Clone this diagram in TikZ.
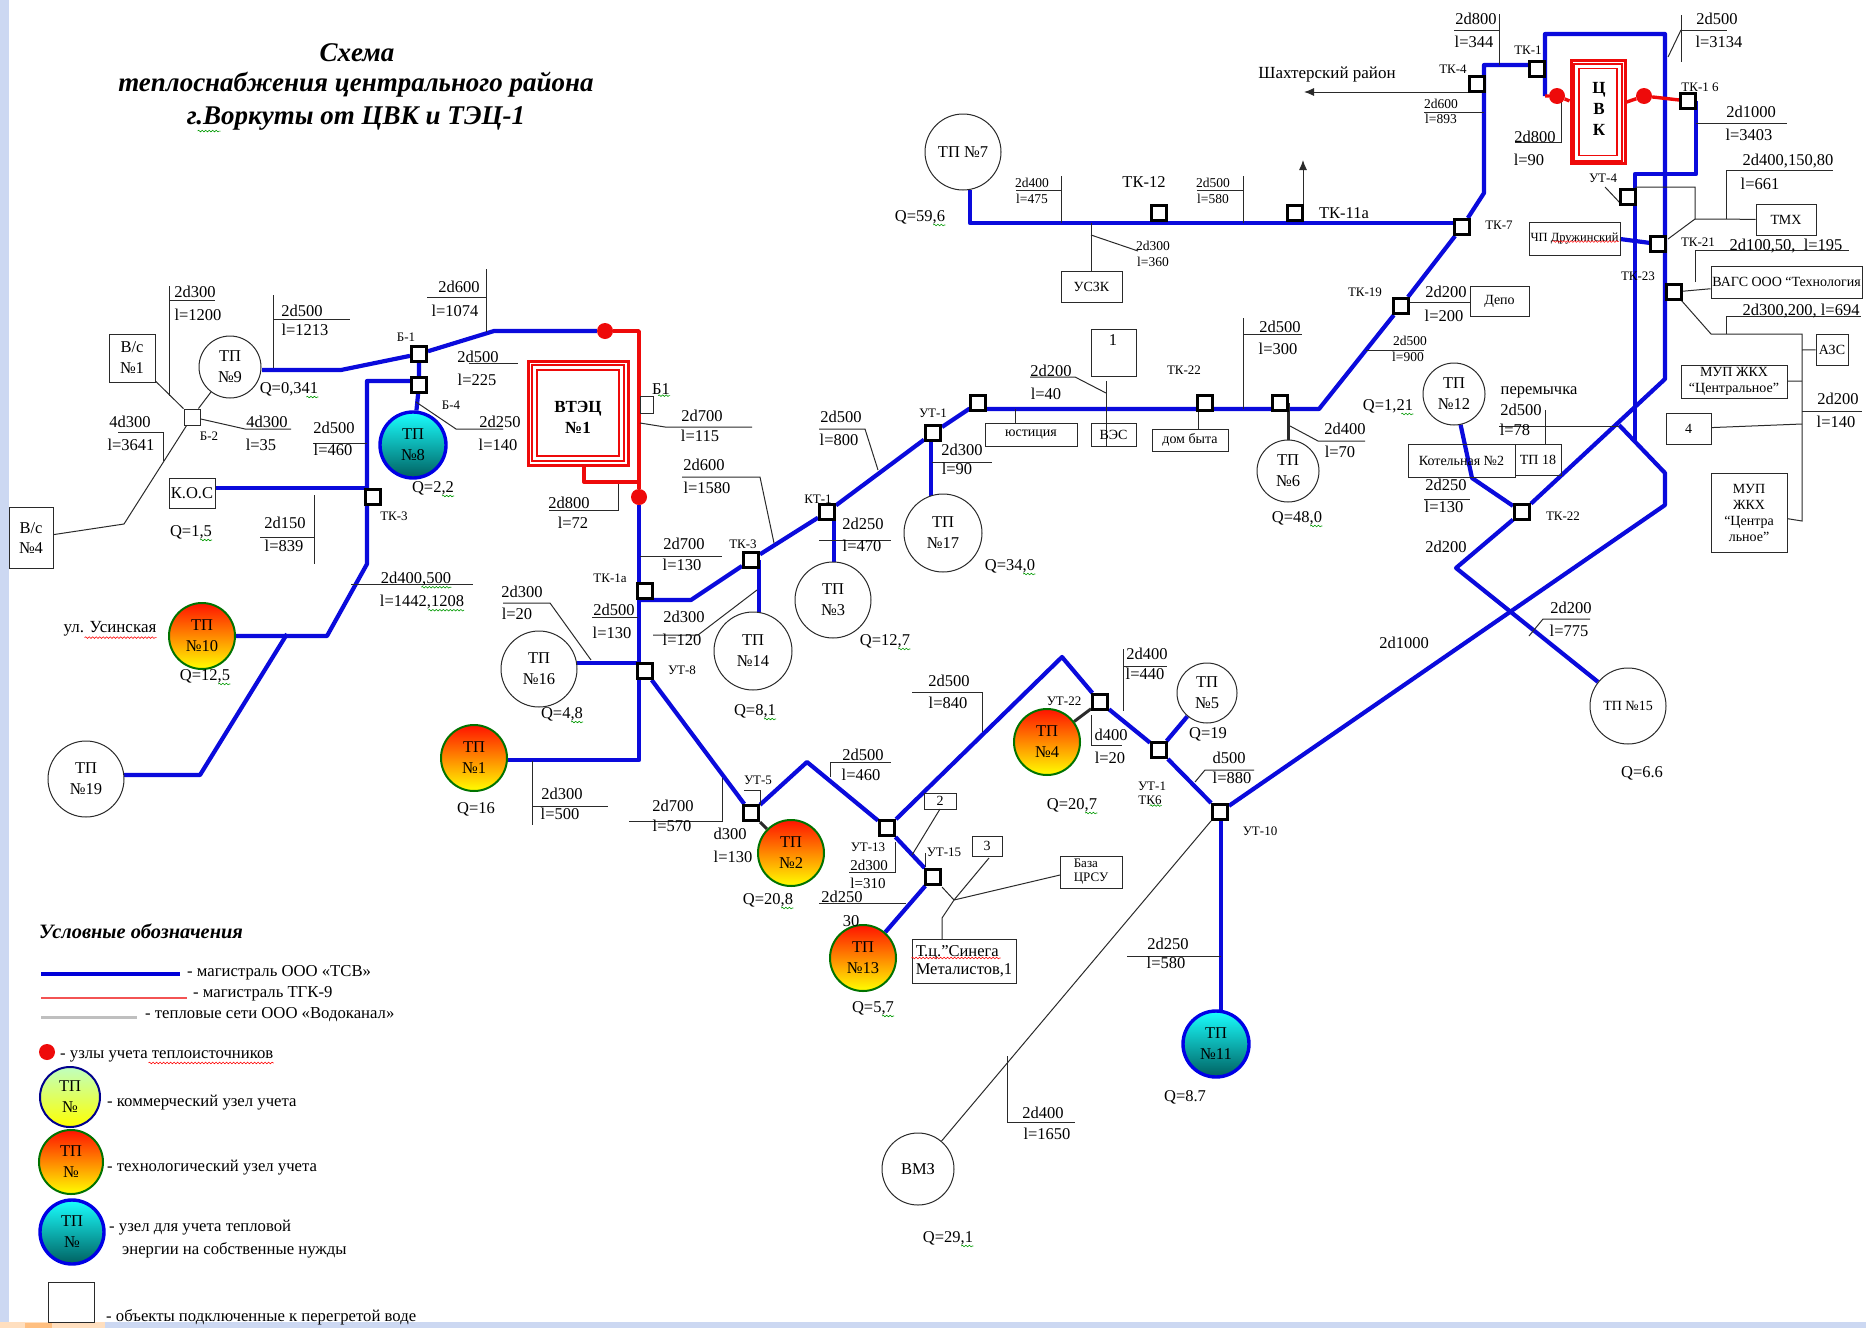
\documentclass[tikz,border=0pt]{standalone}
\usepackage{fontspec}
\setmainfont{Liberation Serif}
\usetikzlibrary{arrows.meta,backgrounds,decorations.pathmorphing}
\definecolor{ink}{HTML}{2A2A2A}
\definecolor{pipeblue}{HTML}{0A0ADC}
\definecolor{pipered}{HTML}{EE0A0A}
\definecolor{stripblue}{HTML}{CCD8F2}
\tikzset{
	pipe/.style={draw=pipeblue, line width=4.2pt, line join=round},
	redpipe/.style={draw=pipered, line width=3.4pt, line join=round},
	stub/.style={draw=ink, line width=3pt},
	leader/.style={draw=ink, line width=1pt},
	arrowline/.style={draw=ink, line width=1pt, -{Latex[length=10pt,width=8pt]}},
	lab/.style={inner sep=0pt, font=\fontsize{16.5pt}{21pt}\selectfont, align=center},
	tag/.style={inner sep=0pt, font=\fontsize{13pt}{15pt}\selectfont, align=center},
	smalllab/.style={inner sep=0pt, font=\fontsize{13.5pt}{15pt}\selectfont, align=center},
	legendtxt/.style={inner sep=0pt, anchor=west, font=\fontsize{16.7pt}{18pt}\selectfont},
	heading/.style={inner sep=0pt, font=\fontsize{27pt}{30pt}\selectfont\bfseries\itshape},
	sq/.style={draw=black, line width=3pt, fill=white, minimum size=15pt, inner sep=0pt},
	thinsq/.style={draw=ink, line width=1pt, fill=white, minimum size=16pt, inner sep=0pt},
	objbox/.style={draw=ink, line width=1pt, inner sep=0pt, align=center, font=\fontsize{14pt}{16pt}\selectfont},
	tpplain/.style={circle, draw=ink, line width=1pt, fill=white, inner sep=0pt, minimum size=#1, lab},
	tptech/.style={circle, draw=green!45!black, line width=2pt, top color=red!85!orange, middle color=orange!80!yellow, bottom color=yellow, inner sep=0pt, minimum size=#1, lab},
	tpown/.style={circle, draw=blue!90!black, line width=3.4pt, top color=cyan!90!white, bottom color=teal!75!black, inner sep=0pt, minimum size=#1, lab},
	tpcomm/.style={circle, draw=blue!55!black, line width=2pt, top color=green!25!white, bottom color=yellow, inner sep=0pt, minimum size=#1, lab},
	meterdot/.style={circle, fill=pipered, inner sep=0pt, minimum size=16pt},
	redbox/.style={draw=pipered, inner sep=0pt},
	squig/.style={draw=#1, line width=.6pt, decorate, decoration={snake, amplitude=.8pt, segment length=3.5pt}},
}
\begin{document}
\begin{tikzpicture}[x=1pt,y=-1pt]
	\useasboundingbox (0,0) rectangle (1866,1328);
	\fill[stripblue] (0,0) rectangle (9,1328);
	\fill[stripblue] (105,1322) rectangle (1866,1328);
	\fill[orange!25!white] (0,1322) rectangle (105,1328);
	\fill[orange!50!white] (25,1323) rectangle (52,1328);

	% заголовок
	\node[heading] (title1) at (357,53) {Схема};
	\node[heading] (title2) at (356,85) {теплоснабжения центрального района};
	\node[heading] (title3) at (356,118) {г.Воркуты от ЦВК и ТЭЦ-1};

	% теплоисточники
	\node[redbox, line width=3pt, minimum width=100pt, minimum height=104pt] (vtecb) at (578,413) {};
	\node[redbox, line width=2pt, minimum width=92pt, minimum height=96pt] (vtecm) at (578,413) {};
	\node[redbox, line width=1.4pt, minimum width=82pt, minimum height=86pt] (vteci) at (578,413) {};
	\node[lab, font=\fontsize{17pt}{21pt}\selectfont\bfseries] (vtec) at (578,417) {ВТЭЦ\\№1};
	\node[redbox, line width=3pt, minimum width=54pt, minimum height=103pt] (cvkb) at (1598,112) {};
	\node[redbox, line width=2pt, minimum width=48pt, minimum height=97pt] (cvkm) at (1598,112) {};
	\node[redbox, line width=1.4pt, minimum width=38pt, minimum height=87pt] (cvki) at (1598,112) {};
	\node[lab, font=\fontsize{17pt}{21pt}\selectfont\bfseries] (cvk) at (1599,109) {Ц\\В\\К};
	\node[meterdot] (dot1) at (605,331) {};
	\node[meterdot] (dot2) at (639,497) {};
	\node[meterdot] (dotc1) at (1557,96) {};
	\node[meterdot] (dotc2) at (1644,96) {};

	% тепловые пункты
	\node[tpplain=62pt] (tp9) at (230,367) {ТП\\№9};
	\node[tpown=66pt] (tp8) at (413,445) {ТП\\№8};
	\node[tptech=66pt] (tp10) at (202,636) {ТП\\№10};
	\node[tpplain=76pt] (tp19) at (86,779) {ТП\\№19};
	\node[tpplain=76pt] (tp7) at (963,152) {ТП №7};
	\node[tpplain=78pt] (tp17) at (943,533) {ТП\\№17};
	\node[tpplain=76pt] (tp3) at (833,600) {ТП\\№3};
	\node[tpplain=78pt] (tp14) at (753,651) {ТП\\№14};
	\node[tpplain=76pt] (tp16) at (539,669) {ТП\\№16};
	\node[tptech=66pt] (tp1) at (474,758) {ТП\\№1};
	\node[tptech=66pt] (tp2) at (791,853) {ТП\\№2};
	\node[tptech=66pt] (tp13) at (863,958) {ТП\\№13};
	\node[tptech=66pt] (tp4) at (1047,742) {ТП\\№4};
	\node[tpplain=60pt] (tp5) at (1207,693) {ТП\\№5};
	\node[tpown=66pt] (tp11) at (1216,1044) {ТП\\№11};
	\node[tpplain=72pt] (vmz) at (918,1169) {ВМЗ};
	\node[tpplain=76pt, font=\fontsize{14pt}{16pt}\selectfont] (tp15) at (1628,706) {ТП №15};
	\node[tpplain=62pt] (tp6) at (1288,471) {ТП\\№6};
	\node[tpplain=62pt] (tp12) at (1454,394) {ТП\\№12};

	% камеры
	\node[sq] (b1) at (419,354) {};
	\node[sq] (b4) at (419,385) {};
	\node[thinsq] (b2) at (192,417) {};
	\node[sq] (tk3a) at (373,497) {};
	\node[sq] (tk1a) at (645,591) {};
	\node[sq] (tk3b) at (751,560) {};
	\node[sq] (kt1) at (827,512) {};
	\node[sq] (ut1a) at (933,433) {};
	\node[sq] (ves) at (978,403) {};
	\node[sq] (tk22a) at (1205,403) {};
	\node[sq] (tk6a) at (1280,403) {};
	\node[sq] (ut8) at (645,671) {};
	\node[sq] (ut5) at (751,813) {};
	\node[sq] (ut13) at (887,828) {};
	\node[sq] (ut15) at (933,877) {};
	\node[sq] (ut22) at (1100,702) {};
	\node[sq] (ut1b) at (1159,750) {};
	\node[sq] (ut10) at (1220,812) {};
	\node[sq] (tk12) at (1159,213) {};
	\node[sq] (tk11a) at (1295,213) {};
	\node[sq] (tk7) at (1462,227) {};
	\node[sq] (tk19) at (1401,306) {};
	\node[sq] (tk4) at (1477,84) {};
	\node[sq] (tk1) at (1537,69) {};
	\node[sq] (tk16) at (1688,101) {};
	\node[sq] (ut4) at (1628,197) {};
	\node[sq] (tk21) at (1658,244) {};
	\node[sq] (tk23) at (1674,292) {};
	\node[sq] (tk22b) at (1522,512) {};

	% объекты
	\node[objbox, minimum width=46pt, minimum height=48pt, font=\fontsize{16.5pt}{21pt}\selectfont] (bs1) at (132,358) {В/с\\№1};
	\node[objbox, minimum width=44pt, minimum height=61pt, font=\fontsize{16.5pt}{20pt}\selectfont] (bs4) at (31,538) {В/с\\№4};
	\node[objbox, minimum width=46pt, minimum height=30pt, font=\fontsize{16.5pt}{21pt}\selectfont] (kos) at (192,493) {К.О.С};
	\node[objbox, minimum width=61pt, minimum height=31pt] (uszk) at (1091.5,287) {УСЗК};
	\node[objbox, minimum width=45pt, minimum height=47pt] (obj1) at (1113.5,353) {};
	\node[lab] (obj1t) at (1113,340) {1};
	\node[objbox, minimum width=92pt, minimum height=23pt] (just) at (1031,435) {юстиция};
	\node[objbox, minimum width=45pt, minimum height=23pt] (vesb) at (1113.5,435) {ВЭС};
	\node[objbox, minimum width=76pt, minimum height=22pt] (dom) at (1190,440) {дом быта};
	\node[objbox, minimum width=59pt, minimum height=30pt] (depo) at (1499.5,301) {Депо};
	\node[objbox, minimum width=60pt, minimum height=31pt] (tmh) at (1786,219.5) {ТМХ};
	\node[objbox, minimum width=91pt, minimum height=33pt, font=\fontsize{12.5pt}{15pt}\selectfont] (chp) at (1574.5,238.5) {ЧП Дружинский};
	\node[objbox, minimum width=151pt, minimum height=32pt, font=\fontsize{14pt}{15pt}\selectfont] (vags) at (1786.5,282) {ВАГС ООО “Технология};
	\node[objbox, minimum width=32pt, minimum height=31pt] (azs) at (1832,349.5) {АЗС};
	\node[objbox, minimum width=106pt, minimum height=33pt] (mup1) at (1734,381.5) {МУП ЖКХ\\“Центральное”};
	\node[objbox, minimum width=45pt, minimum height=31pt] (obj4) at (1688.5,428.5) {4};
	\node[objbox, minimum width=76pt, minimum height=79pt] (mup2) at (1749,512.5) {МУП\\ЖКХ\\“Центра\\льное”};
	\node[objbox, minimum width=107pt, minimum height=33pt] (kot2) at (1461.5,460.5) {Котельная №2};
	\node[objbox, minimum width=46pt, minimum height=31pt] (tp18) at (1538,459.5) {ТП 18};
	\node[objbox, minimum width=32pt, minimum height=16pt] (obj2) at (940,801) {2};
	\node[objbox, minimum width=30pt, minimum height=20pt] (obj3) at (987,846) {3};
	\node[objbox, minimum width=104pt, minimum height=44pt, font=\fontsize{16.5pt}{18pt}\selectfont, align=left] (sineg) at (964,961) {Т.ц.”Синега\\Металистов,1};
	\node[objbox, minimum width=62pt, minimum height=32pt, font=\fontsize{13pt}{14pt}\selectfont, align=left] (crsu) at (1091,872) {База\\ЦРСУ};
	\node[objbox, minimum width=13pt, minimum height=17pt] (b1box) at (646.5,404.5) {};

	% опорные точки
	\foreach \n/\x/\y in {p1/341/370,p2/494/331,p3/419/381,p4/367/381,p5/367/564,p6/327/636,p7/200/775,p8/287/634,
		p9/215/488,p10/369/488,r1/639/331,r2/584/465,r3/584/482,r4/639/482,r5/1545/96,p11/639/760,p12/639/600,p13/691/600,
		p14/969/409,p15/1319/409,p16/1484/193,p17/1484/65,p18/1537/65,p19/759/560,p20/759/619,p21/834/512,p22/834/566,
		p23/931/433,p24/931/496,p25/638/663,p26/807/762,p27/1062/657,p28/1665/505,p29/1665/473,p30/1619/425,p31/1221/1010,
		p32/1545/96,p33/1545/34,p34/1665/34,p35/1665/379,p36/1456/568,p37/1696/101,p38/1696/174,p39/1635/174,p40/1635/442,
		p41/1620/239,p42/1472/478,p43/970/190,p44/970/223,p45/1461/223,p46/1221/812,p47/577/663,p48/507/760,p49/262/370,
		p50/124/775,p51/1288/403,p52/1288/441}
		\coordinate (\n) at (\x,\y);
	\foreach \n/\x/\y in {a1/169/286,a2/169/396,a3/169/300,a4/215/300,a5/118/432,a6/163/432,a7/163/461,a8/245/429,a9/291/429,
		a10/273/295,a11/273/368,a12/273/319,a13/350/319,a14/427/297,a15/486/297,a16/486/269,a17/486/332,a18/469/363,a19/518/363,
		a20/416/402,a21/456/429,a22/503/429,a23/313/443,a24/367/443,a25/260/537,a26/314/537,a27/314/495,a28/314/564,
		a29/549/510,a30/618/510,a31/618/484,a32/351/584,a33/473/584,a34/124/524,
		c1/1016/190,c2/1061/190,c3/1061/176,c4/1061/223,c5/1197/190,c6/1243/190,c7/1243/176,c8/1243/223,c9/1091/223,c10/1091/271,
		c11/1091/235,c12/1138/251,c13/1030/377,c14/1075/377,c15/1106/393,c16/1106/381,c17/1106/447,c18/1015/409,c19/1015/424,
		c20/1198/403,c21/1198/429,c22/1243/318,c23/1243/409,c24/1243/334,c25/1302/334,c26/640/423,c27/665/427,c28/752/427,
		c29/682/477,c30/760/477,c31/774/543,c32/819/429,c33/865/429,c34/878/470,c35/932/462,c36/992/462,c37/819/540,c38/891/540,
		c39/640/556,c40/722/556,c41/653/635,c42/698/635,c43/757/590,c44/592/617,c45/638/617,c46/503/603,c47/550/603,c48/591/660}
		\coordinate (\n) at (\x,\y);
	\foreach \n/\x/\y in {d1/532/761,d2/532/825,d3/532/806,d4/608/806,d5/629/821,d6/722/821,d7/722/778,d8/744/790,d9/760/790,d10/760/805,
		d11/830/762,d12/891/762,d13/830/777,d14/849/872,d15/895/872,d16/895/842,d17/912/855,d18/925/853,d19/925/867,d20/989/858,
		d21/954/900,d22/942/887,d23/942/918,d24/942/939,d25/1060/875,d26/819/903,d27/906/903,d28/912/692,d29/982/692,d30/982/732,
		d31/1091/715,d32/1091/745,d33/1122/745,d34/1123/649,d35/1123/711,d36/1123/666,d37/1167/666,d38/1195/782,d39/1205/770,d40/1254/770,
		d41/1127/956,d42/1221/956,d43/1211/821,d44/1007/1056,d45/1007/1122,d46/1075/1122,d47/940/809}
		\coordinate (\n) at (\x,\y);
	\foreach \n/\x/\y in {e1/1304/92,e2/1468/92,e3/1454/30,e4/1499/30,e5/1499/14,e6/1499/65,e7/1424/112,e8/1484/112,e9/1515/142,e10/1561/142,
		e11/1561/96,e12/1681/30,e13/1727/30,e14/1681/15,e15/1681/62,e16/1668/57,e17/1696/123,e18/1787/123,e19/1726/170,e20/1833/170,
		e21/1726/219,e22/1695/219,e23/1635/187,e24/1695/187,e25/1668/239,e26/1605/187,e27/1621/204,e28/1695/282,e29/1695/250,e30/1849/250,
		e31/1681/300,e32/1711/334,e33/1802/334,e34/1802/521,e35/1726/316,e36/1861/316,e37/1726/334,e38/1802/350,e39/1802/381,e40/1802/424,
		e41/1802/411,e42/1862/411,e43/1499/426,e44/1619/426,e45/1545/410,e46/1545/444,e47/1424/499,e48/1470/499,e49/1529/636,e50/1543/619,
		e51/1590/619,e52/1366/350,e53/1424/350,e54/1303/204,e55/1303/160,e56/1290/426,e57/1318/441,e58/1365/441,e59/1401/302,e60/1470/302}
		\coordinate (\n) at (\x,\y);
	% условные обозначения: концы линий
	\foreach \n/\x/\y in {g1/41/974,g2/180/974,g3/41/998,g4/187/998,g5/41/1017,g6/137/1017}
		\coordinate (\n) at (\x,\y);

	% подписи: западная часть
	\node[lab] (t1a) at (195,292) {2d300};
	\node[lab] (t1b) at (198,315) {l=1200};
	\node[lab] (t2a) at (130,422) {4d300};
	\node[lab] (t2b) at (131,445) {l=3641};
	\node[lab] (t3a) at (267,422) {4d300};
	\node[lab] (t3b) at (261,445) {l=35};
	\node[lab] (t4a) at (302,311) {2d500};
	\node[lab] (t4b) at (305,330) {l=1213};
	\node[lab] (t5a) at (459,287) {2d600};
	\node[lab] (t5b) at (455,311) {l=1074};
	\node[lab] (t6a) at (478,357) {2d500};
	\node[lab] (t6b) at (477,380) {l=225};
	\node[lab] (t7a) at (500,422) {2d250};
	\node[lab] (t7b) at (498,445) {l=140};
	\node[lab] (t8a) at (334,428) {2d500};
	\node[lab] (t8b) at (333,450) {l=460};
	\node[lab] (t9a) at (285,523) {2d150};
	\node[lab] (t9b) at (284,546) {l=839};
	\node[lab] (t10a) at (569,503) {2d800};
	\node[lab] (t10b) at (573,523) {l=72};
	\node[lab] (t11a) at (416,579) {2d400,500};
	\node[lab] (t11b) at (422,602) {l=1442,1208};
	\node[tag] (nb1) at (406,337) {Б-1};
	\node[tag] (nb2) at (209,436) {Б-2};
	\node[tag] (nb4) at (451,405) {Б-4};
	\node[tag] (ntk3a) at (394,516) {ТК-3};
	\node[lab, font=\fontsize{17pt}{19pt}\selectfont] (usin) at (110,629) {ул. Усинская};
	\node[lab] (q9) at (289,389) {Q=0,341};
	\node[lab] (q8) at (433,488) {Q=2,2};
	\node[lab] (qkos) at (191,532) {Q=1,5};
	\node[lab] (q10) at (205,676) {Q=12,5};
	\node[lab] (nb1b) at (661,389) {Б1};

	% подписи: центр
	\node[smalllab] (t12a) at (1032,183) {2d400};
	\node[smalllab] (t12b) at (1032,199) {l=475};
	\node[smalllab] (t13a) at (1213,183) {2d500};
	\node[smalllab] (t13b) at (1213,199) {l=580};
	\node[smalllab] (t14a) at (1153,246) {2d300};
	\node[smalllab] (t14b) at (1153,262) {l=360};
	\node[lab] (t15a) at (1051,371) {2d200};
	\node[lab] (t15b) at (1046,394) {l=40};
	\node[lab] (t16a) at (1280,327) {2d500};
	\node[lab] (t16b) at (1278,349) {l=300};
	\node[lab] (t17a) at (702,416) {2d700};
	\node[lab] (t17b) at (700,436) {l=115};
	\node[lab] (t18a) at (704,465) {2d600};
	\node[lab] (t18b) at (707,488) {l=1580};
	\node[lab] (t19a) at (841,417) {2d500};
	\node[lab] (t19b) at (839,440) {l=800};
	\node[lab] (t20a) at (962,450) {2d300};
	\node[lab] (t20b) at (957,469) {l=90};
	\node[lab] (t21a) at (863,524) {2d250};
	\node[lab] (t21b) at (862,546) {l=470};
	\node[lab] (t22a) at (684,544) {2d700};
	\node[lab] (t22b) at (682,565) {l=130};
	\node[lab] (t23a) at (684,617) {2d300};
	\node[lab] (t23b) at (682,640) {l=120};
	\node[lab] (t24a) at (614,610) {2d500};
	\node[lab] (t24b) at (612,633) {l=130};
	\node[lab] (t25a) at (522,592) {2d300};
	\node[lab] (t25b) at (517,614) {l=20};
	\node[lab] (t26a) at (562,794) {2d300};
	\node[lab] (t26b) at (560,814) {l=500};
	\node[lab] (t27a) at (673,806) {2d700};
	\node[lab] (t27b) at (672,826) {l=570};
	\node[lab] (t28a) at (730,834) {d300};
	\node[lab] (t28b) at (733,857) {l=130};
	\node[lab] (t29a) at (863,755) {2d500};
	\node[lab] (t29b) at (861,775) {l=460};
	\node[lab, font=\fontsize{15pt}{17pt}\selectfont] (t30a) at (869,865) {2d300};
	\node[lab, font=\fontsize{15pt}{17pt}\selectfont] (t30b) at (868,883) {l=310};
	\node[lab] (t31a) at (842,897) {2d250};
	\node[lab] (t31b) at (851,921) {30};
	\node[lab] (t32a) at (949,681) {2d500};
	\node[lab] (t32b) at (948,703) {l=840};
	\node[lab] (t33a) at (1111,735) {d400};
	\node[lab] (t33b) at (1110,758) {l=20};
	\node[lab] (t34a) at (1147,654) {2d400};
	\node[lab] (t34b) at (1145,674) {l=440};
	\node[lab] (t35a) at (1229,758) {d500};
	\node[lab] (t35b) at (1232,778) {l=880};
	\node[lab] (t36a) at (1168,944) {2d250};
	\node[lab] (t36b) at (1166,963) {l=580};
	\node[lab] (t37a) at (1043,1113) {2d400};
	\node[lab] (t37b) at (1047,1134) {l=1650};
	\node[tag] (nut1a) at (933,413) {УТ-1};
	\node[tag] (nkt1) at (818,499) {КТ-1};
	\node[tag] (ntk3b) at (743,544) {ТК-3};
	\node[tag] (ntk1a) at (610,578) {ТК-1а};
	\node[tag] (nut8) at (682,670) {УТ-8};
	\node[tag] (nut5) at (758,780) {УТ-5};
	\node[tag] (nut13) at (868,847) {УТ-13};
	\node[tag] (nut15) at (944,852) {УТ-15};
	\node[tag] (nut22) at (1064,701) {УТ-22};
	\node[tag] (nut1b) at (1152,786) {УТ-1};
	\node[tag] (ntk6) at (1150,800) {ТК6};
	\node[tag] (nut10) at (1260,831) {УТ-10};
	\node[tag] (ntk22t) at (1184,370) {ТК-22};
	\node[lab] (ntk12) at (1144,182) {ТК-12};
	\node[lab] (q7) at (920,217) {Q=59,6};
	\node[lab] (q17) at (1010,566) {Q=34,0};
	\node[lab] (q3) at (885,641) {Q=12,7};
	\node[lab] (q14) at (755,711) {Q=8,1};
	\node[lab] (q16) at (562,714) {Q=4,8};
	\node[lab] (q1) at (476,809) {Q=16};
	\node[lab] (q2) at (768,900) {Q=20,8};
	\node[lab] (q13) at (873,1008) {Q=5,7};
	\node[lab] (q4) at (1072,805) {Q=20,7};
	\node[lab] (q5) at (1208,734) {Q=19};
	\node[lab] (q11) at (1185,1097) {Q=8.7};
	\node[lab] (qvmz) at (948,1238) {Q=29,1};
	\node[lab] (q15) at (1642,773) {Q=6.6};
	\node[lab] (q6) at (1297,518) {Q=48,0};
	\node[lab] (q12) at (1388,406) {Q=1,21};

	% подписи: восток
	\node[lab, font=\fontsize{17pt}{19pt}\selectfont] (shakh) at (1327,74) {Шахтерский район};
	\node[lab] (t40a) at (1476,19) {2d800};
	\node[lab] (t40b) at (1474,42) {l=344};
	\node[smalllab] (t41a) at (1441,104) {2d600};
	\node[smalllab] (t41b) at (1441,119) {l=893};
	\node[lab] (t42a) at (1535,137) {2d800};
	\node[lab] (t42b) at (1529,160) {l=90};
	\node[lab] (t43a) at (1717,19) {2d500};
	\node[lab] (t43b) at (1719,42) {l=3134};
	\node[lab] (t44a) at (1751,112) {2d1000};
	\node[lab] (t44b) at (1749,135) {l=3403};
	\node[lab] (t45a) at (1788,161) {2d400,150,80};
	\node[lab] (t45b) at (1760,184) {l=661};
	\node[lab] (t46) at (1786,246) {2d100,50,\ \ l=195};
	\node[lab] (t47) at (1801,311) {2d300,200,\ l=694};
	\node[lab] (t48a) at (1838,399) {2d200};
	\node[lab] (t48b) at (1836,422) {l=140};
	\node[lab] (t49a) at (1446,292) {2d200};
	\node[lab] (t49b) at (1444,316) {l=200};
	\node[smalllab] (t50a) at (1410,341) {2d500};
	\node[smalllab] (t50b) at (1408,357) {l=900};
	\node[lab] (t51a) at (1345,429) {2d400};
	\node[lab] (t51b) at (1340,452) {l=70};
	\node[lab] (t52) at (1539,392) {перемычка};
	\node[lab] (t53a) at (1521,410) {2d500};
	\node[lab] (t53b) at (1515,430) {l=78};
	\node[lab] (t54a) at (1446,485) {2d250};
	\node[lab] (t54b) at (1444,507) {l=130};
	\node[lab] (t55) at (1446,547) {2d200};
	\node[lab] (t56a) at (1571,608) {2d200};
	\node[lab] (t56b) at (1569,631) {l=775};
	\node[lab] (t57) at (1404,643) {2d1000};
	\node[tag] (ntk4) at (1453,69) {ТК-4};
	\node[tag] (ntk1) at (1528,50) {ТК-1};
	\node[tag] (ntk16) at (1700,87) {ТК-1 6};
	\node[tag] (ntk7) at (1499,225) {ТК-7};
	\node[tag] (ntk19) at (1365,292) {ТК-19};
	\node[lab] (ntk11a) at (1344,213) {ТК-11а};
	\node[tag] (nut4) at (1603,178) {УТ-4};
	\node[tag] (ntk21) at (1698,242) {ТК-21};
	\node[tag] (ntk23) at (1638,276) {ТК-23};
	\node[tag] (ntk22b) at (1563,516) {ТК-22};

	% условные обозначения
	\node[inner sep=0pt, font=\fontsize{20.4pt}{22pt}\selectfont\bfseries\itshape] (legtitle) at (141,931) {Условные обозначения};
	\node[legendtxt] (l1) at (187,973) {- магистраль ООО «ТСВ»};
	\node[legendtxt] (l2) at (193,994) {- магистраль ТГК-9};
	\node[legendtxt] (l3) at (145,1015) {- тепловые сети ООО «Водоканал»};
	\node[meterdot] (ldot) at (47,1052) {};
	\node[legendtxt] (l4) at (60,1056) {- узлы учета теплоисточников};
	\node[tpcomm=60pt] (lc1) at (70,1097) {ТП\\№};
	\node[legendtxt] (l5) at (107,1103) {- коммерческий узел учета};
	\node[tptech=64pt] (lc2) at (71,1162) {ТП\\№};
	\node[legendtxt] (l6) at (107,1168) {- технологический узел учета};
	\node[tpown=64pt] (lc3) at (72,1232) {ТП\\№};
	\node[legendtxt] (l7) at (109,1228) {- узел для учета тепловой};
	\node[legendtxt] (l8) at (122,1250) {энергии на собственные нужды};
	\node[objbox, minimum width=46pt, minimum height=40pt] (lbox) at (71,1302) {};
	\node[legendtxt] (l9) at (106,1317) {- объекты подключенные к перегретой воде};

	\begin{scope}[on background layer]
		% магистрали
		\draw[pipe] (p49) -- (p1) -- (b1) -- (p2) -- (dot1);
		\draw[pipe] (b1) -- (b4) -- (tp8);
		\draw[pipe] (p3) -- (p4) -- (p5) -- (p6) -- (tp10);
		\draw[pipe] (p50) -- (p7) -- (p8);
		\draw[pipe] (p9) -- (p10);
		\draw[pipe] (dot2) -- (p11) -- (p48);
		\draw[pipe] (p12) -- (p13) -- (tk3b) -- (kt1) -- (ut1a) -- (p14) -- (p15) -- (tk19) -- (tk7) -- (p16) -- (p17) -- (p18);
		\draw[pipe] (tk1a) -- (p12);
		\draw[pipe] (p19) -- (p20);
		\draw[pipe] (p21) -- (p22);
		\draw[pipe] (p23) -- (p24);
		\draw[pipe] (p43) -- (p44) -- (p45);
		\draw[pipe] (p47) -- (p25);
		\draw[pipe] (ut8) -- (ut5) -- (p26) -- (ut13) -- (ut15) -- (tp13);
		\draw[pipe] (ut13) -- (p27) -- (ut22) -- (ut1b) -- (ut10) -- (p28) -- (p29) -- (p30);
		\draw[pipe] (ut1b) -- (tp5);
		\draw[pipe] (p46) -- (p31);
		\draw[pipe] (p32) -- (p33) -- (p34) -- (p35) -- (tk22b) -- (p36) -- (tp15);
		\draw[pipe] (p37) -- (p38) -- (p39) -- (p40);
		\draw[pipe] (p41) -- (tk21);
		\draw[pipe] (tp12) -- (p42) -- (tk22b);
		\draw[redpipe] (dot1) -- (r1) -- (dot2);
		\draw[redpipe] (r2) -- (r3) -- (r4);
		\draw[redpipe] (r5) -- (dotc1) -- (cvkb);
		\draw[redpipe] (cvkb) -- (dotc2) -- (tk16);
		\draw[stub] (ut5) -- (tp2);
		\draw[stub] (ut22) -- (tp4);
		\draw[stub] (p51) -- (p52);

		% выноски
		\draw[leader] (bs1) -- (b2);
		\draw[leader] (tp9) -- (b2);
		\draw[leader] (b2) -- (a34) -- (bs4);
		\draw[leader] (a1) -- (a2);
		\draw[leader] (a3) -- (a4);
		\draw[leader] (a5) -- (a6) -- (a7);
		\draw[leader] (b2) -- (a8) -- (a9);
		\draw[leader] (a10) -- (a11);
		\draw[leader] (a12) -- (a13);
		\draw[leader] (a14) -- (a15);
		\draw[leader] (a16) -- (a17);
		\draw[leader] (a18) -- (a19);
		\draw[leader] (a20) -- (a21) -- (a22);
		\draw[leader] (a23) -- (a24);
		\draw[leader] (a25) -- (a26);
		\draw[leader] (a27) -- (a28);
		\draw[leader] (a29) -- (a30) -- (a31);
		\draw[leader] (a32) -- (a33);
		\draw[leader] (c1) -- (c2);
		\draw[leader] (c3) -- (c4);
		\draw[leader] (c5) -- (c6);
		\draw[leader] (c7) -- (c8);
		\draw[leader] (c9) -- (c10);
		\draw[leader] (c11) -- (c12);
		\draw[leader] (c13) -- (c14) -- (c15);
		\draw[leader] (c16) -- (c17);
		\draw[leader] (c18) -- (c19);
		\draw[leader] (c20) -- (c21);
		\draw[leader] (c22) -- (c23);
		\draw[leader] (c24) -- (c25);
		\draw[leader] (c26) -- (c27) -- (c28);
		\draw[leader] (c29) -- (c30) -- (c31);
		\draw[leader] (c32) -- (c33) -- (c34);
		\draw[leader] (c35) -- (c36);
		\draw[leader] (c37) -- (c38);
		\draw[leader] (c39) -- (c40);
		\draw[leader] (c41) -- (c42) -- (c43);
		\draw[leader] (c44) -- (c45);
		\draw[leader] (c46) -- (c47) -- (c48);
		\draw[leader] (d1) -- (d2);
		\draw[leader] (d3) -- (d4);
		\draw[leader] (d5) -- (d6) -- (d7);
		\draw[leader] (d8) -- (d9) -- (d10);
		\draw[leader] (d13) -- (d11) -- (d12);
		\draw[leader] (d14) -- (d15) -- (d16);
		\draw[leader] (d47) -- (d17);
		\draw[leader] (d18) -- (d19);
		\draw[leader] (d20) -- (d21);
		\draw[leader] (d22) -- (d21) -- (d23) -- (d24);
		\draw[leader] (d21) -- (d25);
		\draw[leader] (d26) -- (d27);
		\draw[leader] (d28) -- (d29) -- (d30);
		\draw[leader] (d31) -- (d32) -- (d33);
		\draw[leader] (d34) -- (d35);
		\draw[leader] (d36) -- (d37);
		\draw[leader] (d38) -- (d39) -- (d40);
		\draw[leader] (d41) -- (d42);
		\draw[leader] (d43) -- (vmz);
		\draw[leader] (d44) -- (d45) -- (d46);
		\draw[leader] (e3) -- (e4);
		\draw[leader] (e5) -- (e6);
		\draw[leader] (e7) -- (e8);
		\draw[leader] (e9) -- (e10) -- (e11);
		\draw[leader] (e12) -- (e13);
		\draw[leader] (e14) -- (e15);
		\draw[leader] (e16) -- (e12);
		\draw[leader] (e17) -- (e18);
		\draw[leader] (e19) -- (e20);
		\draw[leader] (e19) -- (e21);
		\draw[leader] (e22) -- (tmh);
		\draw[leader] (e23) -- (e24) -- (e22) -- (e25);
		\draw[leader] (e26) -- (e27);
		\draw[leader] (tk23) -- (vags);
		\draw[leader] (e28) -- (e29) -- (e30);
		\draw[leader] (e31) -- (e32) -- (e33) -- (e34) -- (mup2);
		\draw[leader] (e35) -- (e36);
		\draw[leader] (e35) -- (e37);
		\draw[leader] (e38) -- (azs);
		\draw[leader] (e39) -- (mup1);
		\draw[leader] (e40) -- (obj4);
		\draw[leader] (e41) -- (e42);
		\draw[leader] (e43) -- (e44);
		\draw[leader] (e45) -- (e46);
		\draw[leader] (e47) -- (e48);
		\draw[leader] (e49) -- (e50) -- (e51);
		\draw[leader] (e52) -- (e53);
		\draw[leader] (e56) -- (e57) -- (e58);
		\draw[leader] (e59) -- (e60);
		\draw[arrowline] (e54) -- (e55);
		\draw[arrowline] (e2) -- (e1);

		% условные обозначения
		\draw[pipe, draw=blue!85!black] (g1) -- (g2);
		\draw[draw=pipered!70!white, line width=1.6pt] (g3) -- (g4);
		\draw[draw=black!25, line width=3pt] (g5) -- (g6);
	\end{scope}

	% подчёркивания проверки орфографии
	\foreach \n in {q9,q8,qkos,q10,q7,q17,q3,q14,q16,q2,q13,q4,qvmz,q6,q12,nb1b,ntk6}
		\draw[squig=green!60!black] ([xshift=-12pt,yshift=-1pt]\n.south east) -- ([yshift=-1pt]\n.south east);
	\draw[squig=green!60!black] ([xshift=-30pt,yshift=-1pt]t11a.south east) -- ([yshift=-1pt]t11a.south east);
	\draw[squig=green!60!black] ([xshift=-36pt,yshift=-1pt]t11b.south east) -- ([yshift=-1pt]t11b.south east);
	\draw[squig=green!60!black] ([xshift=11pt,yshift=-1pt]title3.south west) -- ([xshift=34pt,yshift=-1pt]title3.south west);
	\draw[squig=red] ([xshift=-72pt,yshift=-1pt]usin.south east) -- ([yshift=-1pt]usin.south east);
	\draw[squig=red] ([xshift=-125pt,yshift=-1pt]l4.south east) -- ([yshift=-1pt]l4.south east);
	\draw[squig=red] ([xshift=24pt,yshift=-3pt]chp.west) -- ([xshift=-2pt,yshift=-3pt]chp.east);
	\draw[squig=red] ([yshift=3pt]sineg.west) -- ([xshift=-16pt,yshift=3pt]sineg.east);
\end{tikzpicture}
\end{document}
